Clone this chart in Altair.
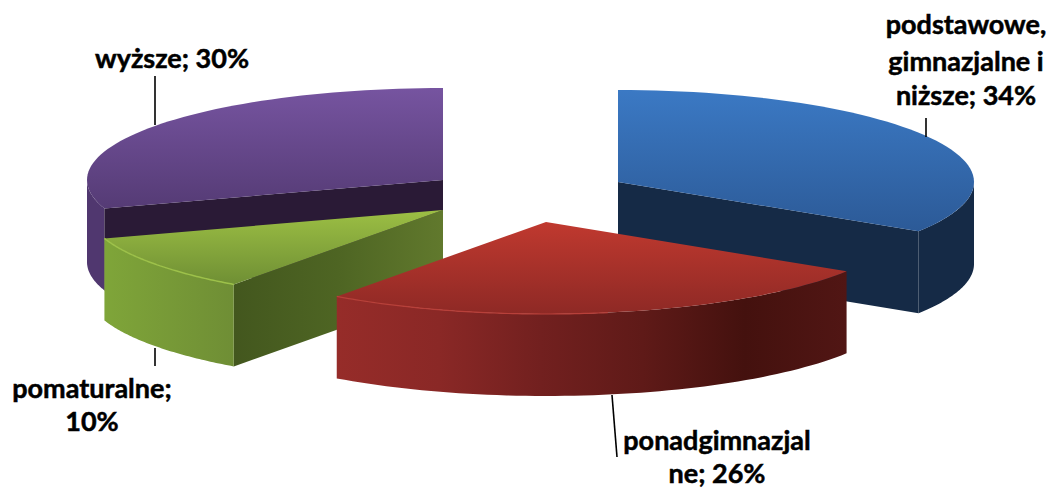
import math
import altair as alt
import pandas as pd

# Data
categories = ["podstawowe, gimnazjalne i niższe", "ponadgimnazjalne", "pomaturalne", "wyższe"]
shares = [34, 26, 10, 30]
label_lines = [
    ["podstawowe,", "gimnazjalne i", "niższe; 34%"],
    ["ponadgimnazjal", "ne; 26%"],
    ["pomaturalne;", "10%"],
    ["wyższe; 30%"],
]

# Projection of the pie (picture pixels)
RX, RY, DEPTH = 356, 92, 82
CENTRES = [(618, 182), (546, 222), (443, 210), (443, 180)]
W, H = 1038, 481


def grad(stops, horizontal=False):
    n = len(stops) - 1
    s = [alt.GradientStop(offset=i / n, color=c) for i, c in enumerate(stops)]
    if horizontal:
        return alt.Gradient(gradient="linear", stops=s, x1=0, x2=1, y1=0, y2=0)
    return alt.Gradient(gradient="linear", stops=s, x1=0, y1=0, x2=0, y2=1)


def pt(c, deg, dy=0):
    a = math.radians(deg)
    return c[0] + RX * math.sin(a), c[1] - RY * math.cos(a) + dy


def arc(c, a0, a1, dy=0, n=60):
    return [pt(c, a0 + (a1 - a0) * i / n, dy) for i in range(n + 1)]


def layer(points, fill):
    df = pd.DataFrame(points, columns=["x", "y"]).reset_index()
    df = pd.concat([df, df.iloc[[0]].assign(index=len(df))])
    return alt.Chart(df).mark_line(fill=fill, stroke=None, strokeWidth=0, interpolate="linear").encode(
        x=alt.X("x:Q", axis=None, scale=alt.Scale(domain=[8, W + 8], nice=False, zero=False)),
        y=alt.Y("y:Q", axis=None, scale=alt.Scale(domain=[H + 8, 8], nice=False, zero=False)),
        order="index:Q",
    )


def edge(points, color, width=1.5):
    df = pd.DataFrame(points, columns=["x", "y"]).reset_index()
    return alt.Chart(df).mark_line(stroke=color, strokeWidth=width).encode(
        x=alt.X("x:Q", axis=None, scale=alt.Scale(domain=[8, W + 8], nice=False, zero=False)),
        y=alt.Y("y:Q", axis=None, scale=alt.Scale(domain=[H + 8, 8], nice=False, zero=False)),
        order="index:Q",
    )


def leader(x0, y0, x1, y1):
    return alt.Chart(pd.DataFrame({"a": [0]})).mark_rule(color="#000000", strokeWidth=1.6).encode(
        x=alt.value(x0 - 8), x2=alt.value(x1 - 8), y=alt.value(y0 - 8), y2=alt.value(y1 - 8)
    )


def label(lines, cx, baselines):
    layers = []
    for t, b in zip(lines, baselines):
        layers.append(
            alt.Chart(pd.DataFrame({"t": [t]}))
            .mark_text(font="Lato", fontWeight="bold", fontSize=27, color="#000000",
                       stroke="#000000", strokeWidth=0.5, align="center", baseline="alphabetic")
            .encode(text="t:N", x=alt.value(cx - 8), y=alt.value(b - 8))
        )
    return layers


bounds = []
a = 0
for s in shares:
    bounds.append((a, a + s * 3.6))
    a += s * 3.6

(b0, b1), (r0, r1), (g0, g1), (p0, p1) = bounds
cb, cr, cg, cp = CENTRES

layers = []

# blue
layers.append(layer([cb, pt(cb, b1), pt(cb, b1, DEPTH), (cb[0], cb[1] + DEPTH)], "#152a46"))
layers.append(layer(arc(cb, 90, b1) + arc(cb, b1, 90, DEPTH), "#152a46"))
layers.append(layer([cb] + arc(cb, b0, b1), grad(["#3b79c4", "#2c5a97"])))

# purple
layers.append(layer(arc(cp, 252, 270) + arc(cp, 270, 252, DEPTH), "#50376f"))
layers.append(layer([cp, pt(cp, p0), pt(cp, p0, DEPTH), (cp[0], cp[1] + DEPTH)], "#2a1a36"))
layers.append(layer([cp] + arc(cp, p0, p1), grad(["#7654a0", "#553b75"])))

# green
layers.append(layer([cg, pt(cg, g0), pt(cg, g0, DEPTH), (cg[0], cg[1] + DEPTH)],
                    grad(["#43571e", "#4e6523", "#61792d"], True)))
layers.append(layer(arc(cg, g0, g1) + arc(cg, g1, g0, DEPTH),
                    grad(["#7fa539", "#6f8e35"], True)))
layers.append(layer([cg] + arc(cg, g0, g1), grad(["#9cbf44", "#6f8f34"])))
layers.append(edge(arc(cg, g0, g1), "#9dc14a", 1.5))

# red
layers.append(layer(arc(cr, r0, r1) + arc(cr, r1, r0, DEPTH),
                    grad(["#962c29", "#8a2826", "#72201f", "#5f1a18", "#44110e", "#511614"], True)))
layers.append(layer([cr] + arc(cr, r0, r1), grad(["#c0392f", "#8e2925"])))
layers.append(edge(arc(cr, 170, r1), "#b8403a", 1.2))

# leaders
layers += [
    leader(926, 118, 926, 137),
    leader(612, 395, 617, 457),
    leader(155, 348, 155, 366),
    leader(155, 76, 155, 125),
]

# labels
layers += label(label_lines[0], 966, [34, 71, 105])
layers += label(label_lines[1], 717, [450, 483])
layers += label(label_lines[2], 92, [398, 431])
layers += label(label_lines[3], 172, [68])

chart = alt.layer(*layers).properties(
    width=W, height=H, padding=0, autosize=alt.AutoSizeParams(type="none")
).configure_view(stroke=None)

chart.save("out.html", embed_options={"renderer": "svg", "actions": False})
